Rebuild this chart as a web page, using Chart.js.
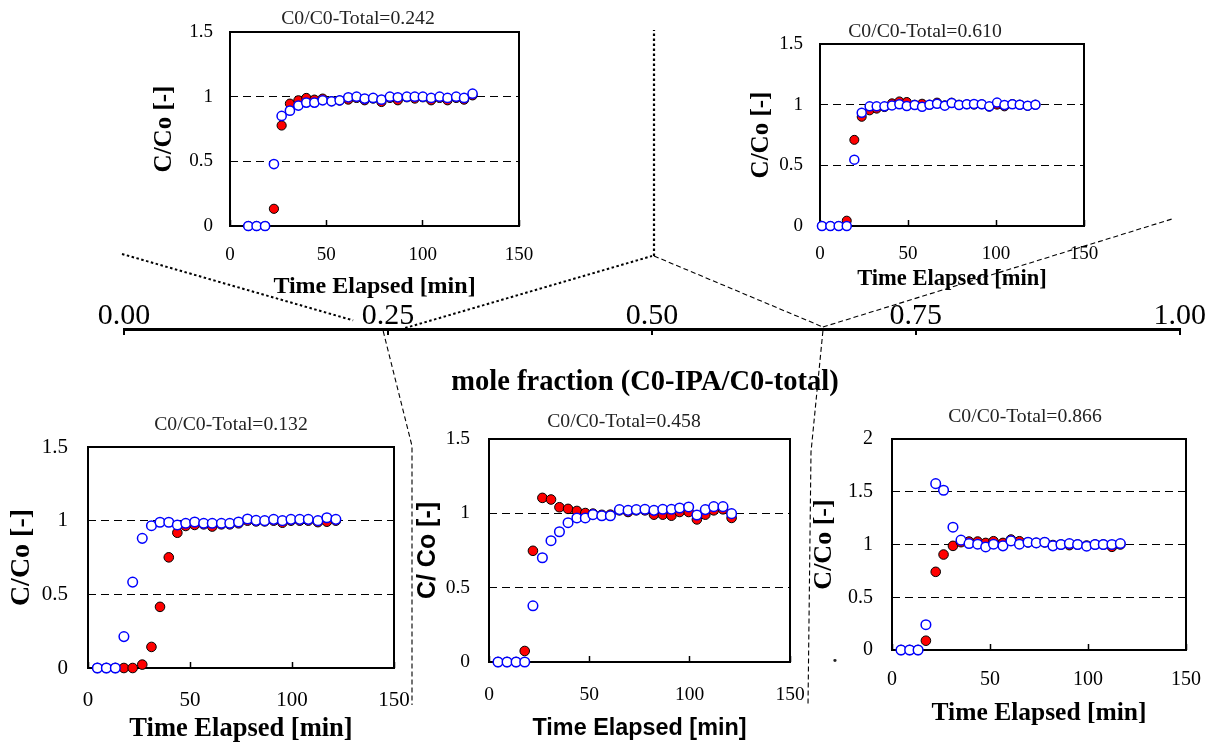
<!DOCTYPE html>
<html><head><meta charset="utf-8">
<script src="https://cdn.jsdelivr.net/npm/chart.js@4.4.1/dist/chart.umd.min.js"></script>
<style>
html,body{margin:0;padding:0;background:#fff;}
body{width:1207px;height:745px;position:relative;overflow:hidden;}
canvas{position:absolute;}
.t{position:absolute;font-family:'Liberation Serif',serif;font-size:19.7px;color:#222;white-space:nowrap;transform:translate(-50%,-50%);line-height:1;}
.mf{position:absolute;font-family:'Liberation Serif',serif;font-weight:bold;font-size:28.5px;color:#000;white-space:nowrap;transform:translate(-50%,-50%);line-height:1;}
</style></head><body>
<script>
// ---------- data ----------
const panelTitles = ['C0/C0-Total=0.242','C0/C0-Total=0.610','C0/C0-Total=0.132','C0/C0-Total=0.458','C0/C0-Total=0.866'];
const timeTicks = [0, 50, 100, 150];
const ratioTicks = [0, 0.5, 1, 1.5];
const ratioTicksE = [0, 0.5, 1, 1.5, 2];
const fractionTicks = [0, 0.25, 0.5, 0.75, 1];
const pointerFractions = [0.2455, 0.662];
const axisTitle = 'mole fraction (C0-IPA/C0-total)';

const timeA = [9.5,13.8,18.2,22.8,26.8,31.1,35.5,39.6,43.8,48.1,52.7,56.9,61.4,65.7,69.9,74.3,78.6,83.0,87.1,91.8,95.9,100.1,104.4,108.8,112.9,117.4,121.5,125.9];
const redA  = [0,0,0,0.133,0.777,0.946,0.972,0.99,0.977,0.985,0.965,0.97,0.977,0.99,0.972,0.985,0.959,0.99,0.972,0.995,0.985,0.995,0.972,0.99,0.972,0.99,0.977,1.01];
const blueA = [0,0,0,0.479,0.851,0.892,0.931,0.954,0.954,0.972,0.964,0.972,0.995,1.0,0.985,0.99,0.977,1.0,0.995,1.0,1.0,1.0,0.99,1.0,0.99,1.0,0.99,1.023];

const timeB = [1.1,5.9,10.6,15.2,19.5,23.7,28.2,32.2,36.6,40.9,45.1,49.3,53.8,58.0,62.2,66.5,70.9,74.8,79.0,83.4,87.5,91.9,96.2,100.6,104.8,109.3,113.5,118.0,122.4];
const redB  = [0,0,0,0.044,0.71,0.90,0.953,0.967,0.98,1.011,1.027,1.022,1.0,1.008,1.0,1.017,0.995,1.017,1.0,1.003,1.0,1.003,0.983,1.0,0.986,1.005,1.0,0.99,1.0];
const blueB = [0,0,0,0,0.547,0.934,0.986,0.986,0.986,0.994,1.003,0.989,0.997,0.983,1.0,1.008,0.992,1.014,0.997,1.003,1.006,1.003,0.986,1.017,0.997,1.003,1.0,0.992,1.0];

const timeC = [4.6,9.0,13.4,17.6,21.9,26.6,31.1,35.3,39.6,43.8,47.9,52.3,56.7,60.9,65.4,69.5,73.8,78.2,82.4,86.6,91.0,95.3,99.5,103.8,108.0,112.7,117.1,121.5];
const redC  = [0,0,0,0,0,0.023,0.143,0.415,0.751,0.918,0.964,0.971,0.975,0.96,0.975,0.975,0.982,1.0,0.995,0.995,1.0,0.986,1.0,1.0,1.0,0.99,0.993,1.0];
const blueC = [0,0,0,0.213,0.583,0.88,0.966,0.989,0.989,0.971,0.982,0.991,0.982,0.982,0.982,0.982,0.991,1.011,1.002,1.0,1.009,1.0,1.009,1.009,1.009,1.0,1.02,1.009];

const timeD = [4.5,9.0,13.5,17.8,21.9,26.6,30.9,35.1,39.4,43.8,48.0,51.8,56.2,60.5,65.0,69.3,73.4,77.7,82.2,86.6,90.9,95.0,99.5,103.6,107.8,112.0,116.6,120.9];
const redD  = [0,0,0,0.074,0.748,1.104,1.093,1.041,1.03,1.016,1.002,0.998,0.99,0.991,1.02,1.009,1.02,1.02,0.991,0.991,0.984,1.009,1.009,0.959,0.991,1.02,1.027,0.969];
const blueD = [0,0,0,0,0.378,0.701,0.816,0.876,0.937,0.969,0.969,0.991,0.984,0.984,1.025,1.02,1.025,1.027,1.02,1.027,1.027,1.036,1.043,0.989,1.025,1.045,1.045,0.998];

const timeE = [4.6,9.0,13.3,17.3,22.3,26.3,31.1,35.2,39.3,43.7,47.8,51.8,56.6,60.7,65.0,69.4,73.6,77.9,82.1,86.2,90.5,94.7,99.3,103.6,107.8,112.2,116.5];
const redE  = [0,0,0,0.088,0.741,0.905,0.987,1.022,1.028,1.028,1.015,1.031,1.015,1.047,1.031,1.02,1.015,1.02,0.995,1.0,0.994,1.0,0.99,1.0,1.0,0.978,1.0];
const blueE = [0,0,0,0.24,1.577,1.514,1.164,1.041,1.009,1.003,0.977,1.003,0.987,1.034,1.003,1.022,1.015,1.022,0.987,1.0,1.009,1.0,0.984,1.0,1.0,1.0,1.009];

// ---------- layout / style ----------
const SERIF = "'Liberation Serif', 'Times New Roman', serif";
const SANS = "'Liberation Sans', Arial, sans-serif";
const PADT = 40, PADR = 50;
const panels = [
  {t:timeA,r:redA,b:blueA,yt:ratioTicks, cl:150,cb:301, pl:230,pt:32,pr:519,pb:226, tf:19, ytp:17, xtp:23.6, rad:4.6,
   yTitle:'C/Co [-]', ytFont:{family:SERIF,size:25,weight:'bold'}, xtFont:{family:SERIF,size:24,weight:'bold'}, title:[358,18]},
  {t:timeB,r:redB,b:blueB,yt:ratioTicks, cl:747,cb:293, pl:820,pt:44,pr:1084,pb:226, tf:19, ytp:17, xtp:22.6, rad:4.5,
   yTitle:'C/Co [-]', ytFont:{family:SERIF,size:25,weight:'bold'}, xtFont:{family:SERIF,size:22.5,weight:'bold'}, title:[925,31]},
  {t:timeC,r:redC,b:blueC,yt:ratioTicks, cl:5,cb:745, pl:88,pt:447,pr:394,pb:668, tf:21, ytp:20, xtp:25.9, rad:4.8,
   yTitle:'C/Co [-]', ytFont:{family:SERIF,size:28,weight:'bold'}, xtFont:{family:SERIF,size:26.5,weight:'bold'}, title:[231,423.5]},
  {t:timeD,r:redD,b:blueD,yt:ratioTicks, cl:413,cb:743, pl:489,pt:439,pr:790,pb:662, tf:19.5, ytp:19, xtp:26.8, rad:4.8,
   yTitle:'C/ Co [-]', ytFont:{family:SANS,size:25,weight:'bold'}, xtFont:{family:SANS,size:23.4,weight:'bold'}, title:[624,421]},
  {t:timeE,r:redE,b:blueE,yt:ratioTicksE, cl:809,cb:729, pl:892,pt:439,pr:1186,pb:650, tf:20, ytp:19, xtp:24, rad:4.8,
   yTitle:'C/Co [-]', ytFont:{family:SERIF,size:26,weight:'bold'}, xtFont:{family:SERIF,size:25.5,weight:'bold'}, title:[1025,416]}
];

Chart.defaults.font.family = SERIF;
Chart.defaults.color = '#000';

function addCanvas(l, t, w, h) {
  const cv = document.createElement('canvas');
  cv.width = w; cv.height = h;
  cv.style.left = l + 'px'; cv.style.top = t + 'px';
  document.body.appendChild(cv);
  return cv;
}

// ---------- central mole-fraction axis with connectors ----------
const connectors = {
  id: 'connectors',
  beforeDraw(chart) {
    const ctx = chart.ctx, sx = chart.scales.x, yA = chart.chartArea.top;
    const p1 = sx.getPixelForValue(pointerFractions[0]);
    const p2 = sx.getPixelForValue(pointerFractions[1]);
    const path = (pts, dash, w) => {
      ctx.save();
      ctx.strokeStyle = '#000'; ctx.lineWidth = w; ctx.setLineDash(dash);
      ctx.beginPath(); ctx.moveTo(pts[0][0], pts[0][1]);
      for (let i = 1; i < pts.length; i++) ctx.lineTo(pts[i][0], pts[i][1]);
      ctx.stroke(); ctx.restore();
    };
    const dotted = [2.5, 2.5], dashed = [5, 3];
    const s = [122, 254], f = 0.885;
    path([s, [s[0] + (p1 - s[0]) * f, s[1] + (yA - s[1]) * f]], dotted, 2);
    path([[p1 + 22, yA - 1], [652, 256]], dotted, 2);
    path([[654, 256], [654, 30]], dotted, 2.2);
    path([[654, 256], [p2, yA - 2]], dashed, 1.1);
    path([[p2, yA - 2], [1172, 219]], dashed, 1.1);
    path([[p1, yA + 2], [412, 446], [412, 705]], dashed, 1.1);
    path([[p2, yA + 2], [811, 452], [808, 705]], dashed, 1.1);
  }
};

new Chart(addCanvas(0, 0, 1207, 745), {
  type: 'scatter',
  data: {datasets: [{data: []}]},
  options: {
    responsive: false, animation: false, events: [],
    layout: {padding: {left: 124, right: 20, top: 289, bottom: 410}},
    plugins: {legend: {display: false}, tooltip: {enabled: false}},
    scales: {
      x: {
        type: 'linear', position: 'top', min: 0, max: 1,
        afterBuildTicks: s => { s.ticks = fractionTicks.map(v => ({value: v})); },
        afterFit: s => { s.height = 40; },
        grid: {drawOnChartArea: true, drawTicks: false, color: '#000', lineWidth: 2},
        border: {display: true, color: '#000', width: 3},
        ticks: {padding: 1, color: '#000', font: {family: SERIF, size: 30, lineHeight: 0.8},
                callback: v => Number(v).toFixed(2), maxRotation: 0, autoSkip: false}
      },
      y: {display: false, min: 0, max: 1}
    }
  },
  plugins: [connectors]
});

// ---------- the five breakthrough panels ----------
const frame = {
  id: 'frame',
  beforeDatasetsDraw(chart) {
    const {ctx, chartArea: a} = chart;
    ctx.save(); ctx.strokeStyle = '#000'; ctx.lineWidth = 2; ctx.setLineDash([]);
    ctx.strokeRect(a.left, a.top, a.right - a.left, a.bottom - a.top);
    ctx.restore();
  }
};

panels.forEach((g, k) => {
  const yMax = g.yt[g.yt.length - 1];
  const ct = g.pt - PADT, cr = g.pr + PADR;
  const cv = addCanvas(g.cl, ct, cr - g.cl, g.cb - ct);
  new Chart(cv, {
    type: 'scatter',
    data: {datasets: [
      {label: 'blue', data: g.t.map((x, i) => ({x, y: g.b[i]})), clip: false,
       pointRadius: g.rad, pointBackgroundColor: '#ffffff', pointBorderColor: '#0000ff', pointBorderWidth: 1.5},
      {label: 'red', data: g.t.map((x, i) => ({x, y: g.r[i]})), clip: false,
       pointRadius: g.rad, pointBackgroundColor: '#ff0000', pointBorderColor: '#000000', pointBorderWidth: 1}
    ]},
    options: {
      responsive: false, animation: false, events: [],
      layout: {padding: {top: PADT, right: PADR, left: 0, bottom: 0}},
      plugins: {legend: {display: false}, tooltip: {enabled: false}},
      scales: {
        x: {
          type: 'linear', min: 0, max: 150,
          afterBuildTicks: s => { s.ticks = timeTicks.map(v => ({value: v})); },
          afterFit: s => { s.height = g.cb - g.pb; },
          grid: {drawOnChartArea: false, drawTicks: true, tickLength: -6, tickColor: '#000', tickWidth: 1.5, color: '#000'},
          border: {display: false},
          ticks: {padding: g.xtp, color: '#000', font: {family: SERIF, size: g.tf}, maxRotation: 0, autoSkip: false,
                  callback: v => String(v)},
          title: {display: true, text: 'Time Elapsed [min]', color: '#000', padding: 0, font: g.xtFont}
        },
        y: {
          type: 'linear', min: 0, max: yMax,
          afterBuildTicks: s => { s.ticks = g.yt.map(v => ({value: v})); },
          afterFit: s => { s.width = g.pl - g.cl; },
          grid: {drawTicks: false, lineWidth: 1,
                 color: c => (c.tick && (c.tick.value === 0 || c.tick.value === yMax)) ? 'rgba(0,0,0,0)' : '#000'},
          border: {display: false, dash: [8, 5]},
          ticks: {padding: g.ytp, color: '#000', font: {family: SERIF, size: g.tf}, autoSkip: false,
                  callback: v => String(v)},
          title: {display: true, text: g.yTitle, color: '#000', padding: 0, font: g.ytFont}
        }
      }
    },
    plugins: [frame]
  });
  const d = document.createElement('div');
  d.className = 't'; d.textContent = panelTitles[k];
  d.style.left = g.title[0] + 'px'; d.style.top = g.title[1] + 'px';
  document.body.appendChild(d);
});

const mf = document.createElement('div');
mf.className = 'mf'; mf.textContent = axisTitle;
mf.style.left = '645px'; mf.style.top = '381px';
document.body.appendChild(mf);

const dot = document.createElement('div');
dot.className = 't'; dot.textContent = '.';
dot.style.left = '835px'; dot.style.top = '656px'; dot.style.fontWeight = 'bold';
document.body.appendChild(dot);
</script>
</body></html>
